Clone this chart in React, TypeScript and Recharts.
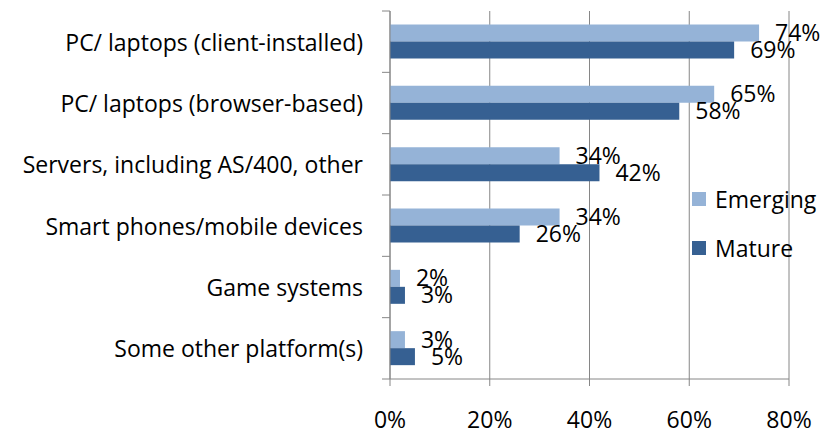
import React from "react";
import { BarChart, Bar, XAxis, YAxis, CartesianGrid, LabelList } from "recharts";

const categories = [
  "PC/ laptops (client-installed)",
  "PC/ laptops (browser-based)",
  "Servers, including AS/400, other",
  "Smart phones/mobile devices",
  "Game systems",
  "Some other platform(s)",
];
const emerging = [0.74, 0.65, 0.34, 0.34, 0.02, 0.03];
const mature = [0.69, 0.58, 0.42, 0.26, 0.03, 0.05];
const xTicks = [0, 0.2, 0.4, 0.6, 0.8];
const seriesNames = ["Emerging", "Mature"];
const colors = ["#95B3D7", "#366092"];

const data = categories.map((c, i) => ({ name: c, emerging: emerging[i], mature: mature[i] }));

const FONT = "'Open Sans', 'Liberation Sans', sans-serif";
const FS = 23;
const W = 836;
const H = 431;
const M = { top: 11, right: 47, bottom: 0, left: 0 };
const Y_W = 390;
const X_H = 52;
const plotH = H - M.top - M.bottom - X_H;
const band = plotH / categories.length;

const pct = (v: number) => `${Math.round(v * 100)}%`;

const YTick = (props: any) => {
  const { x, y, payload, index } = props;
  const ax = x + 8;
  return (
    <g>
      <line x1={ax - 8} x2={ax} y1={y - band / 2} y2={y - band / 2} stroke="#868686" />
      {index === categories.length - 1 && (
        <line x1={ax - 8} x2={ax} y1={y + band / 2} y2={y + band / 2} stroke="#868686" />
      )}
      <text x={363} y={y} textAnchor="end" dominantBaseline="central" fontFamily={FONT} fontSize={FS} fill="#000">
        {payload.value}
      </text>
    </g>
  );
};

const XTick = (props: any) => {
  const { x, y, payload } = props;
  return (
    <text x={x} y={y + 31} textAnchor="middle" dominantBaseline="central" fontFamily={FONT} fontSize={FS} fill="#000">
      {pct(payload.value)}
    </text>
  );
};

export default function App() {
  return (
    <div style={{ position: "absolute", left: 0, top: 0, width: W, height: H, background: "#fff" }}>
      <BarChart
        width={W}
        height={H}
        data={data}
        layout="vertical"
        margin={M}
        barCategoryGap="22%"
        barGap={0}
      >
        <CartesianGrid horizontal={false} vertical={true} stroke="#868686" strokeWidth={1} />
        <XAxis
          type="number"
          domain={[0, 0.8]}
          ticks={xTicks}
          height={X_H}
          axisLine={{ stroke: "#868686" }}
          tickLine={{ stroke: "#868686" }}
          tickSize={7}
          tick={<XTick />}
          interval={0}
        />
        <YAxis
          type="category"
          dataKey="name"
          width={Y_W}
          axisLine={{ stroke: "#868686" }}
          tickLine={false}
          tick={<YTick />}
          interval={0}
        />
        <Bar dataKey="emerging" name={seriesNames[0]} fill={colors[0]} isAnimationActive={false}>
          <LabelList dataKey="emerging" position="right" offset={16} formatter={pct} fontFamily={FONT} fontSize={FS} fill="#000" />
        </Bar>
        <Bar dataKey="mature" name={seriesNames[1]} fill={colors[1]} isAnimationActive={false}>
          <LabelList dataKey="mature" position="right" offset={16} formatter={pct} fontFamily={FONT} fontSize={FS} fill="#000" />
        </Bar>
      </BarChart>
      <div style={{ position: "absolute", left: 692, top: 174, fontFamily: FONT, fontSize: FS, color: "#000", lineHeight: "normal" }}>
        {seriesNames.map((n, i) => (
          <div key={n} style={{ display: "flex", alignItems: "center", height: 49 }}>
            <div style={{ width: 14, height: 14, background: colors[i], marginRight: 9 }} />
            <span>{n}</span>
          </div>
        ))}
      </div>
    </div>
  );
}
